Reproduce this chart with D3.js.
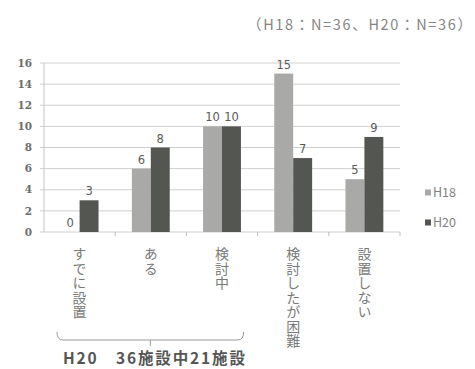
<!DOCTYPE html>
<html>
<head>
<meta charset="utf-8">
<script src="https://cdn.jsdelivr.net/npm/d3@7"></script>
<style>
  body { margin: 0; background: #fff; }
</style>
</head>
<body>
<div id="chart"></div>
<script>
(function() {
  var width = 475,
    height = 369;

  // data
  var categories = ["すでに設置", "ある", "検討中", "検討したが困難", "設置しない"];
  var seriesNames = ["H18", "H20"];
  var h18 = [0, 6, 10, 15, 5];
  var h20 = [3, 8, 10, 7, 9];
  var yTicks = [0, 2, 4, 6, 8, 10, 12, 14, 16];

  var colors = { H18: "#a9aaa8", H20: "#545652" };

  var margin = { left: 44, right: 75, top: 63, bottom: 137 };

  var svg = d3.select("#chart").append("svg")
    .attr("width", width)
    .attr("height", height)
    .style("font-family", "'Noto Sans CJK JP', 'DejaVu Sans', sans-serif");

  var x = d3.scaleBand()
    .domain(categories)
    .range([margin.left, width - margin.right]);

  var x1 = d3.scaleBand()
    .domain(seriesNames)
    .range([0, x.bandwidth()])
    .paddingOuter(0.88);

  var y = d3.scaleLinear()
    .domain([0, 16])
    .range([height - margin.bottom, margin.top]);

  // gridlines
  svg.append("g")
    .selectAll("line")
    .data(yTicks)
    .enter().append("line")
    .attr("x1", margin.left - 4)
    .attr("x2", width - margin.right)
    .attr("y1", function(d) { return y(d); })
    .attr("y2", function(d) { return y(d); })
    .attr("stroke", "#cfd0ce")
    .attr("stroke-width", 1);

  // y axis line
  svg.append("line")
    .attr("x1", margin.left).attr("x2", margin.left)
    .attr("y1", y(16)).attr("y2", y(0))
    .attr("stroke", "#c4c6c4");

  // y tick labels
  svg.append("g")
    .selectAll("text")
    .data(yTicks)
    .enter().append("text")
    .attr("x", 32)
    .attr("y", function(d) { return y(d); })
    .attr("dy", "0.35em")
    .attr("text-anchor", "end")
    .attr("font-family", "'DejaVu Serif', serif")
    .attr("font-weight", "bold")
    .attr("font-size", 10.5)
    .attr("fill", "#6d6e6c")
    .text(function(d) { return d; });

  // category ticks on baseline
  var bounds = categories.map(function(c) { return x(c) + x.bandwidth(); });
  svg.append("g")
    .selectAll("line")
    .data(bounds)
    .enter().append("line")
    .attr("x1", function(d) { return d; })
    .attr("x2", function(d) { return d; })
    .attr("y1", y(0))
    .attr("y2", y(0) + 4)
    .attr("stroke", "#bdbfbd");

  var rows = categories.map(function(c, i) {
    return { cat: c, values: [{ s: "H18", v: h18[i] }, { s: "H20", v: h20[i] }] };
  });

  var groups = svg.selectAll(".grp")
    .data(rows)
    .enter().append("g")
    .attr("class", "grp")
    .attr("transform", function(d) { return "translate(" + x(d.cat) + ",0)"; });

  groups.selectAll("rect")
    .data(function(d) { return d.values; })
    .enter().append("rect")
    .attr("x", function(d) { return x1(d.s); })
    .attr("width", x1.bandwidth())
    .attr("y", function(d) { return y(d.v); })
    .attr("height", function(d) { return y(0) - y(d.v); })
    .attr("fill", function(d) { return colors[d.s]; });

  groups.selectAll(".val")
    .data(function(d) { return d.values; })
    .enter().append("text")
    .attr("class", "val")
    .attr("x", function(d) { return x1(d.s) + x1.bandwidth() / 2; })
    .attr("y", function(d) { return y(d.v) - 5; })
    .attr("text-anchor", "middle")
    .attr("font-family", "'DejaVu Sans', sans-serif")
    .attr("font-size", 11.5)
    .attr("fill", "#5a5b59")
    .text(function(d) { return d.v; });

  // vertical category labels
  svg.append("g")
    .selectAll("text")
    .data(categories)
    .enter().append("text")
    .attr("x", function(d) { return x(d) + x.bandwidth() / 2; })
    .attr("y", y(0) + 15)
    .style("writing-mode", "vertical-rl")
    .style("glyph-orientation-vertical", "0")
    .style("letter-spacing", "0.5px")
    .attr("font-size", 14)
    .attr("fill", "#7a7b79")
    .text(function(d) { return d; });

  // legend
  var legend = svg.append("g")
    .selectAll("g")
    .data(seriesNames)
    .enter().append("g")
    .attr("transform", function(d, i) { return "translate(425," + (193 + i * 30) + ")"; });

  legend.append("rect")
    .attr("x", 0).attr("y", -3.5)
    .attr("width", 6).attr("height", 6)
    .attr("fill", function(d) { return colors[d]; });

  legend.append("text")
    .attr("x", 8)
    .attr("dy", "0.35em")
    .attr("font-size", 12.5)
    .attr("fill", "#808180")
    .text(function(d) { return d; });

  // subtitle
  svg.append("text")
    .attr("x", 247)
    .attr("y", 30)
    .attr("textLength", 225)
    .attr("lengthAdjust", "spacing")
    .attr("font-size", 14.5)
    .attr("fill", "#858684")
    .text("（H18：N=36、H20：N=36）");

  // bracket under first three categories
  var bx1 = x(categories[0]) + 13,
    bx2 = x(categories[2]) + x.bandwidth() - 14,
    by = 340,
    bmid = (bx1 + bx2) / 2;
  svg.append("path")
    .attr("d", "M" + bx1 + "," + (by - 8) + "Q" + bx1 + "," + by + " " + (bx1 + 6) + "," + by +
      "L" + (bx2 - 6) + "," + by + "Q" + bx2 + "," + by + " " + bx2 + "," + (by - 8) +
      "M" + bmid + "," + by + "L" + bmid + "," + (by + 6))
    .attr("fill", "none")
    .attr("stroke", "#9a9b99")
    .attr("stroke-width", 1);

  svg.append("text")
    .attr("x", 63)
    .attr("y", 364)
    .attr("textLength", 182)
    .attr("lengthAdjust", "spacing")
    .attr("font-size", 15.5)
    .attr("font-weight", "bold")
    .attr("fill", "#555654")
    .text("H20　36施設中21施設");
})();
</script>
</body>
</html>
